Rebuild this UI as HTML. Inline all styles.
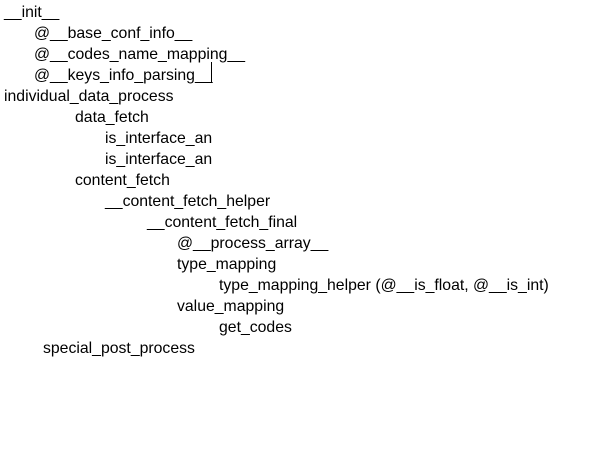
<!DOCTYPE html>
<html><head><style>
body{margin:0;width:614px;height:453px;background:#fff;overflow:hidden;position:relative;font-family:"Liberation Sans",sans-serif;font-size:15.8px;color:#000}
div{position:absolute;white-space:nowrap;line-height:21px;height:21px}
</style></head><body>
<div style="left:4px;top:2px">__init__</div>
<div style="left:34px;top:23px">@__base_conf_info__</div>
<div style="left:34px;top:44px">@__codes_name_mapping__</div>
<div style="left:34px;top:65px">@__keys_info_parsing__</div>
<div style="left:211px;top:62px;width:1px;height:20px;background:#000"></div>
<div style="left:4px;top:86px">individual_data_process</div>
<div style="left:75px;top:107px">data_fetch</div>
<div style="left:105px;top:128px">is_interface_an</div>
<div style="left:105px;top:149px">is_interface_an</div>
<div style="left:75px;top:170px">content_fetch</div>
<div style="left:105px;top:191px">__content_fetch_helper</div>
<div style="left:147px;top:212px">__content_fetch_final</div>
<div style="left:177px;top:233px">@__process_array__</div>
<div style="left:177px;top:254px">type_mapping</div>
<div style="left:219px;top:275px">type_mapping_helper (@__is_float, @__is_int)</div>
<div style="left:177px;top:296px">value_mapping</div>
<div style="left:219px;top:317px">get_codes</div>
<div style="left:43px;top:338px">special_post_process</div>
</body></html>
